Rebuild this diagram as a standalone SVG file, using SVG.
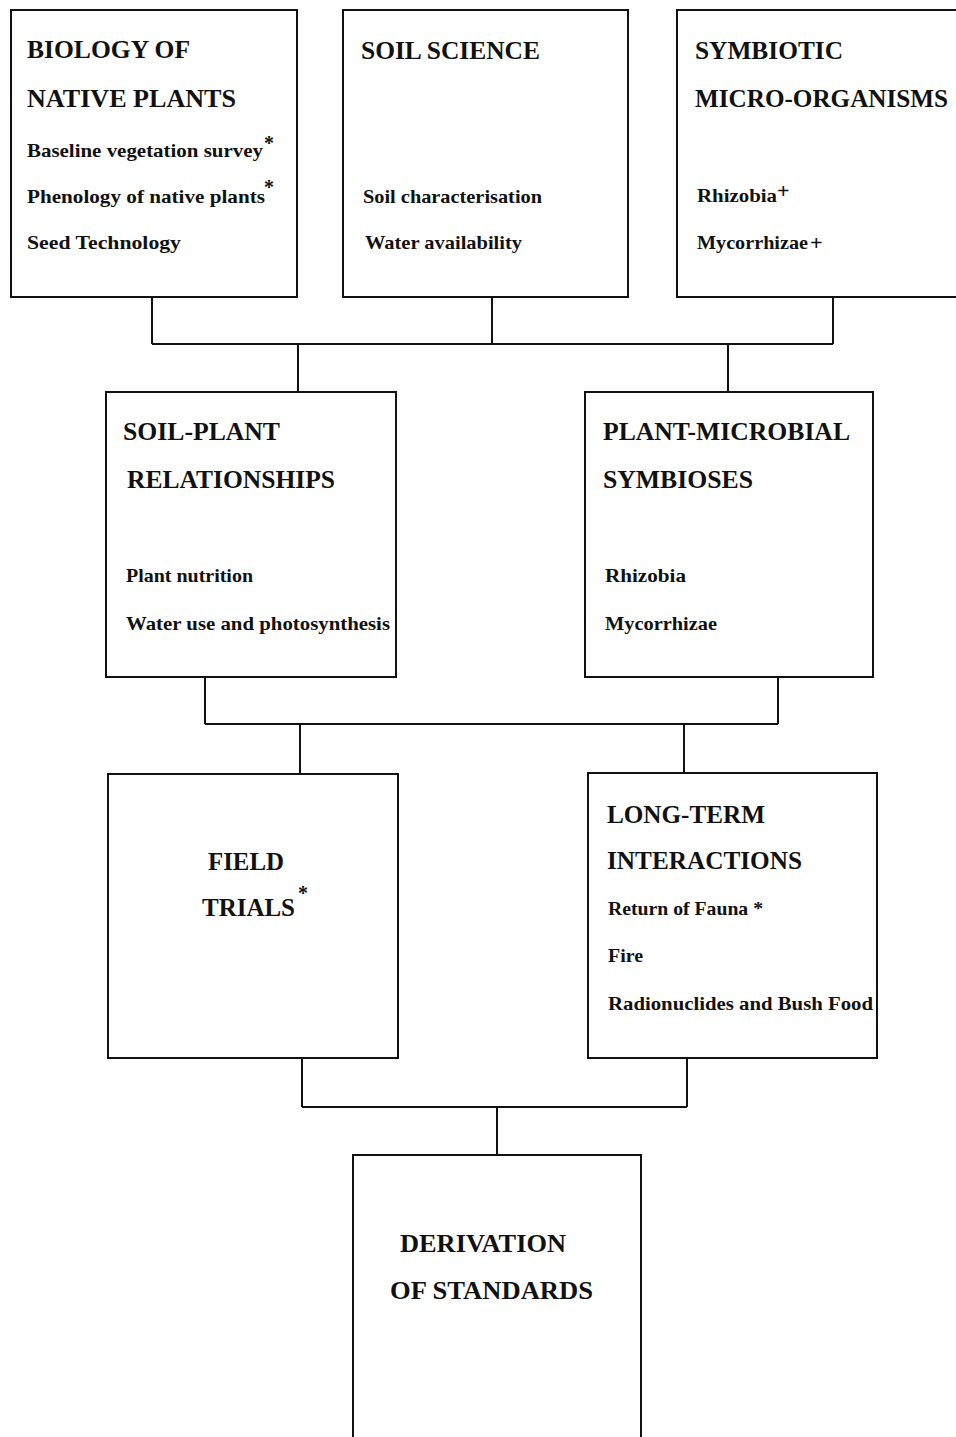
<svg xmlns="http://www.w3.org/2000/svg" width="956" height="1437" viewBox="0 0 956 1437">
<style>
.box{fill:#fff;stroke:#111;stroke-width:2}
.con{fill:none;stroke:#111;stroke-width:2}
.h{font-family:"Liberation Serif","DejaVu Serif",serif;font-weight:bold;font-size:26px;fill:#111}
.b{font-family:"Liberation Serif","DejaVu Serif",serif;font-weight:bold;font-size:19px;fill:#111}
.s{font-family:"Liberation Serif","DejaVu Serif",serif;font-weight:bold;font-size:20px;fill:#111}
.p{font-family:"Liberation Serif","DejaVu Serif",serif;font-weight:bold;font-size:22px;fill:#111}
</style>
<rect width="956" height="1437" fill="#fff"/>
<g id="connectors">
<path class="con" d="M152,297 V344 M492,297 V344 M833,297 V344 M152,344 H833 M298,344 V392 M728,344 V392"/>
<path class="con" d="M205,677 V724 M778,677 V724 M205,724 H778 M300,724 V774 M684,724 V773"/>
<path class="con" d="M302,1058 V1107 M687,1058 V1107 M302,1107 H687 M497,1107 V1155"/>
</g>
<g id="biology">
<rect class="box" x="11" y="10" width="286" height="287"/>
<text class="h" x="27" y="58" textLength="163" lengthAdjust="spacingAndGlyphs">BIOLOGY OF</text>
<text class="h" x="27" y="107" textLength="209" lengthAdjust="spacingAndGlyphs">NATIVE PLANTS</text>
<text class="b" x="27" y="157" textLength="236" lengthAdjust="spacingAndGlyphs">Baseline vegetation survey</text>
<text class="s" x="264" y="150">*</text>
<text class="b" x="27" y="203" textLength="238" lengthAdjust="spacingAndGlyphs">Phenology of native plants</text>
<text class="s" x="264" y="194">*</text>
<text class="b" x="27" y="249" textLength="154" lengthAdjust="spacingAndGlyphs">Seed Technology</text>
</g>
<g id="soil-science">
<rect class="box" x="343" y="10" width="285" height="287"/>
<text class="h" x="361" y="59" textLength="179" lengthAdjust="spacingAndGlyphs">SOIL SCIENCE</text>
<text class="b" x="363" y="203" textLength="179" lengthAdjust="spacingAndGlyphs">Soil characterisation</text>
<text class="b" x="365" y="249" textLength="157" lengthAdjust="spacingAndGlyphs">Water availability</text>
</g>
<g id="symbiotic">
<rect class="box" x="677" y="10" width="290" height="287"/>
<text class="h" x="695" y="59" textLength="148" lengthAdjust="spacingAndGlyphs">SYMBIOTIC</text>
<text class="h" x="695" y="107" textLength="253" lengthAdjust="spacingAndGlyphs">MICRO-ORGANISMS</text>
<text class="b" x="697" y="202" textLength="80" lengthAdjust="spacingAndGlyphs">Rhizobia</text>
<text class="p" x="777" y="198">+</text>
<text class="b" x="697" y="249" textLength="111" lengthAdjust="spacingAndGlyphs">Mycorrhizae</text>
<text class="p" x="810" y="250">+</text>
</g>
<g id="soil-plant">
<rect class="box" x="106" y="392" width="290" height="285"/>
<text class="h" x="123" y="440" textLength="157" lengthAdjust="spacingAndGlyphs">SOIL-PLANT</text>
<text class="h" x="127" y="488" textLength="208" lengthAdjust="spacingAndGlyphs">RELATIONSHIPS</text>
<text class="b" x="126" y="582" textLength="127" lengthAdjust="spacingAndGlyphs">Plant nutrition</text>
<text class="b" x="126" y="630" textLength="264" lengthAdjust="spacingAndGlyphs">Water use and photosynthesis</text>
</g>
<g id="plant-microbial">
<rect class="box" x="585" y="392" width="288" height="285"/>
<text class="h" x="603" y="440" textLength="247" lengthAdjust="spacingAndGlyphs">PLANT-MICROBIAL</text>
<text class="h" x="603" y="488" textLength="150" lengthAdjust="spacingAndGlyphs">SYMBIOSES</text>
<text class="b" x="605" y="582" textLength="81" lengthAdjust="spacingAndGlyphs">Rhizobia</text>
<text class="b" x="605" y="630" textLength="112" lengthAdjust="spacingAndGlyphs">Mycorrhizae</text>
</g>
<g id="field-trials">
<rect class="box" x="108" y="774" width="290" height="284"/>
<text class="h" x="208" y="870" textLength="76" lengthAdjust="spacingAndGlyphs">FIELD</text>
<text class="h" x="202" y="916" textLength="93" lengthAdjust="spacingAndGlyphs">TRIALS</text>
<text class="s" x="298" y="900">*</text>
</g>
<g id="long-term">
<rect class="box" x="588" y="773" width="289" height="285"/>
<text class="h" x="607" y="823" textLength="158" lengthAdjust="spacingAndGlyphs">LONG-TERM</text>
<text class="h" x="607" y="869" textLength="195" lengthAdjust="spacingAndGlyphs">INTERACTIONS</text>
<text class="b" x="608" y="915" textLength="155" lengthAdjust="spacingAndGlyphs">Return of Fauna *</text>
<text class="b" x="608" y="962" textLength="35" lengthAdjust="spacingAndGlyphs">Fire</text>
<text class="b" x="608" y="1010" textLength="265" lengthAdjust="spacingAndGlyphs">Radionuclides and Bush Food</text>
</g>
<g id="derivation">
<rect class="box" x="353" y="1155" width="288" height="300"/>
<text class="h" x="400" y="1252" textLength="166" lengthAdjust="spacingAndGlyphs">DERIVATION</text>
<text class="h" x="390" y="1299" textLength="203" lengthAdjust="spacingAndGlyphs">OF STANDARDS</text>
</g>
</svg>
